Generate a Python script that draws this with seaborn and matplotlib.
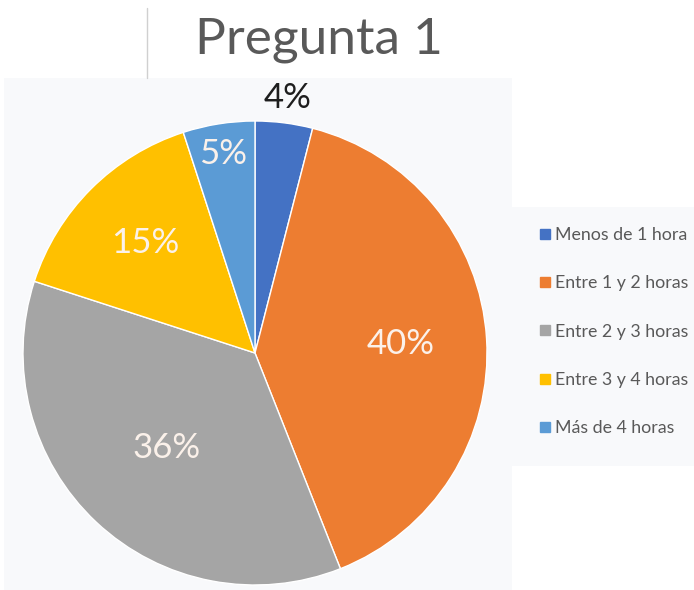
import matplotlib
matplotlib.use("Agg")
import matplotlib.pyplot as plt
import seaborn as sns
import numpy as np
from matplotlib.lines import Line2D
from matplotlib.patches import Rectangle

# Datos
categorias = ["Menos de 1 hora", "Entre 1 y 2 horas", "Entre 2 y 3 horas",
              "Entre 3 y 4 horas", "Más de 4 horas"]
porcentajes = [4, 40, 36, 15, 5]
etiquetas = ["4%", "40%", "36%", "15%", "5%"]

colores = ["#4472C4", "#ED7D31", "#A5A5A5", "#FFC000", "#5B9BD5"]
# distancia radial de cada etiqueta
dist_etiqueta = [1.11, 0.63, 0.56, 0.67, 0.87]

sns.set_theme(style="white")
plt.rcParams['font.family'] = ['Lato', 'DejaVu Sans']

fig = plt.figure(figsize=(6.94, 5.9), dpi=100)
fig.patch.set_facecolor("white")

W, H = 694, 590
# fondo del area del grafico y de la leyenda
fig.add_artist(Rectangle((4 / W, 0), 508 / W, (H - 78) / H, transform=fig.transFigure,
                         facecolor="#f8f9fb", edgecolor="none", zorder=0))
fig.add_artist(Rectangle((512 / W, (H - 466) / H), 182 / W, 259 / H, transform=fig.transFigure,
                         facecolor="#f8f9fb", edgecolor="none", zorder=0))
# linea vertical arriba
fig.add_artist(Line2D([147 / W, 147 / W], [(H - 8) / H, (H - 78) / H], transform=fig.transFigure,
                      color="#d0d0d0", lw=1))

cx, cy, r = 255, 353, 232
ax = fig.add_axes([(cx - r) / W, (H - cy - r) / H, 2 * r / W, 2 * r / H])
ax.set_facecolor("none")

wedges, _ = ax.pie(porcentajes, colors=colores, startangle=90, counterclock=False,
                   radius=1, wedgeprops=dict(edgecolor="white", linewidth=1))
ax.set_xlim(-1, 1)
ax.set_ylim(-1, 1)
ax.set_aspect("equal")
ax.axis("off")

for w, lab, d in zip(wedges, etiquetas, dist_etiqueta):
    ang = np.deg2rad((w.theta1 + w.theta2) / 2)
    x, y = d * np.cos(ang), d * np.sin(ang)
    col = "#1e1e1e" if d > 1 else "#fbf1ea"
    ax.text(x, y, lab, ha="center", va="center", fontsize=25, color=col, clip_on=False)

fig.text(319 / W, (H - 40) / H, "Pregunta 1", ha="center", va="center",
         fontsize=37, color="#595959")

handles = [Line2D([0], [0], marker="s", linestyle="none", markersize=7,
                  markerfacecolor=c, markeredgecolor=c) for c in colores]
fig.legend(handles, categorias, loc="upper left", bbox_to_anchor=(527 / W, (H - 218) / H),
           frameon=False, fontsize=12.8, labelcolor="#595959", handletextpad=0.1,
           labelspacing=1.82, borderpad=0, handlelength=1)

fig.savefig("out.png", dpi=100)
